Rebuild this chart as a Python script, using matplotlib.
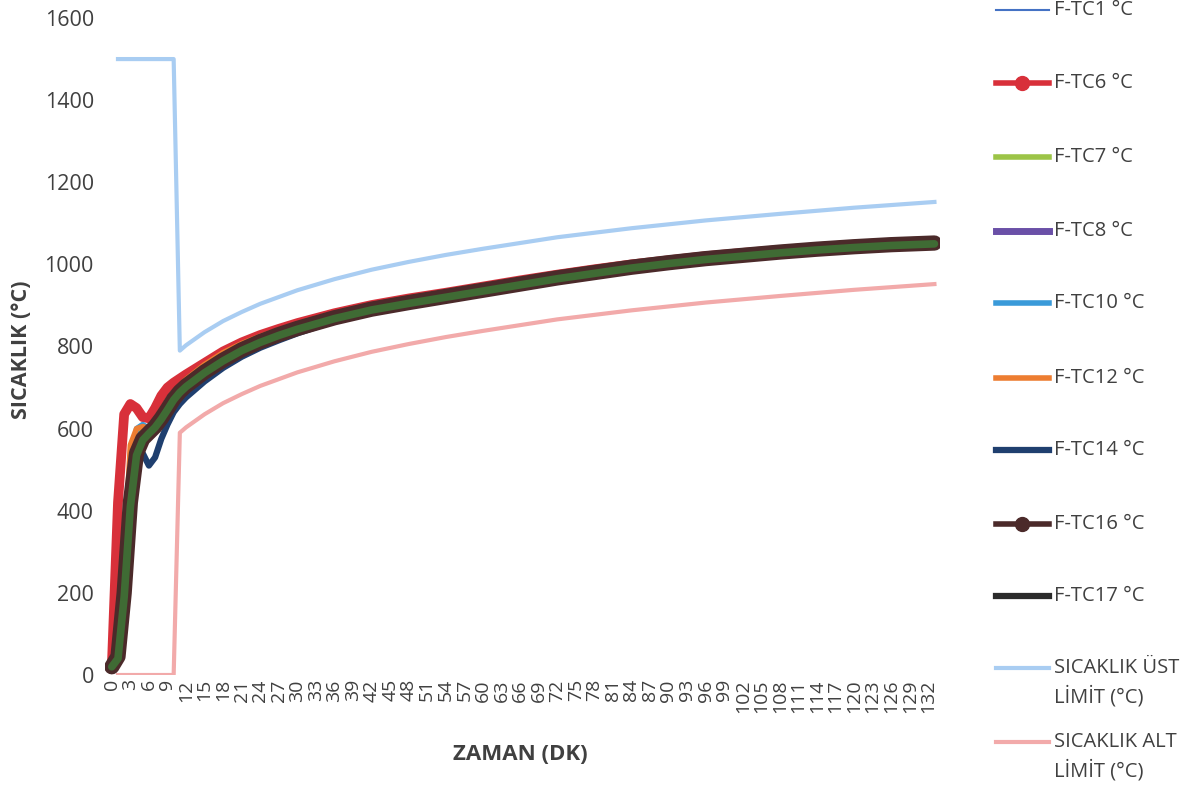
import numpy as np
import matplotlib
matplotlib.use('Agg')
import matplotlib.pyplot as plt
from matplotlib.lines import Line2D

# time in minutes
t = [0, 1, 2, 3, 4, 5, 6, 7, 8, 9, 10, 11, 12, 15, 18, 21, 24, 27, 30, 36, 42, 48,
     54, 60, 66, 72, 78, 84, 90, 96, 102, 108, 114, 120, 126, 133]

tc1 = [20, 50, 230, 450, 560, 585, 595, 608, 626, 648, 670, 688, 702, 737, 766, 791, 811, 828,
       843, 869, 890, 906, 921, 936, 951, 966, 979, 992, 1003, 1013, 1021, 1029, 1036, 1042, 1047, 1051]
tc6 = [20, 420, 635, 660, 650, 628, 625, 650, 680, 700, 712, 722, 732, 760, 788, 810, 828, 843,
       857, 881, 901, 917, 931, 946, 961, 975, 988, 1000, 1010, 1020, 1028, 1035, 1042, 1048, 1053, 1057]
tc7 = [20, 55, 240, 470, 575, 600, 605, 615, 635, 655, 678, 696, 710, 745, 774, 799, 819, 836,
       851, 877, 897, 913, 928, 942, 957, 971, 984, 996, 1007, 1017, 1025, 1033, 1040, 1046, 1051, 1055]
tc8 = [20, 45, 210, 430, 545, 575, 585, 600, 622, 645, 668, 688, 702, 738, 767, 792, 812, 829,
       844, 870, 891, 907, 922, 937, 952, 967, 980, 993, 1004, 1014, 1022, 1030, 1037, 1043, 1048, 1052]
tc10 = [20, 60, 260, 500, 600, 610, 600, 610, 628, 650, 670, 688, 701, 736, 765, 790, 810, 827,
        842, 868, 889, 905, 920, 935, 950, 965, 978, 991, 1002, 1012, 1020, 1028, 1035, 1041, 1046, 1050]
tc12 = [20, 60, 280, 560, 600, 605, 600, 620, 645, 668, 685, 705, 720, 756, 785, 807, 825, 840,
        854, 878, 898, 914, 928, 943, 958, 972, 985, 997, 1008, 1018, 1026, 1033, 1040, 1046, 1051, 1055]
tc14 = [20, 40, 180, 400, 540, 540, 510, 530, 575, 610, 640, 660, 676, 715, 748, 775, 797, 815,
        832, 862, 884, 901, 916, 931, 946, 960, 973, 986, 997, 1007, 1015, 1023, 1030, 1036, 1041, 1045]
tc16 = [20, 45, 200, 420, 540, 575, 590, 605, 625, 648, 672, 690, 704, 738, 767, 792, 812, 829,
        844, 870, 891, 907, 922, 937, 952, 967, 980, 993, 1004, 1014, 1022, 1030, 1037, 1043, 1048, 1052]
tc17 = [20, 40, 190, 410, 535, 572, 588, 603, 623, 646, 670, 688, 702, 736, 765, 790, 810, 827,
        842, 868, 889, 905, 920, 935, 950, 965, 978, 991, 1002, 1012, 1020, 1028, 1035, 1041, 1046, 1050]

# limit curves
t_lim = [1, 10, 11, 12, 15, 18, 21, 24, 30, 36, 42, 48, 54, 60, 72, 84, 96, 108, 120, 133]
ust_limit = [1500, 1500, 790, 803, 835, 862, 884, 904, 937, 964, 987, 1006, 1023, 1038,
             1066, 1088, 1107, 1123, 1138, 1152]
alt_limit = [0, 0, 590, 603, 635, 662, 684, 704, 737, 764, 787, 806, 823, 838,
             866, 888, 907, 923, 938, 952]

x_ticks = list(range(0, 133, 3))
y_ticks = [0, 200, 400, 600, 800, 1000, 1200, 1400, 1600]

FONT = 'Open Sans'
TXT = '#404040'


def main():
    W, H = 1188, 790
    fig = plt.figure(figsize=(W / 100, H / 100), dpi=100)
    ax = fig.add_axes([105 / W, 1 - 675 / H, (940 - 105) / W, (675 - 18) / H])

    ax.plot(t, tc1, color='#4472C4', lw=1.5, zorder=2)
    ax.plot(t, tc6, color='#D8303A', lw=7, solid_capstyle='round', zorder=3)
    ax.plot(t, tc7, color='#9CC447', lw=4, zorder=4)
    ax.plot(t, tc8, color='#6A50A7', lw=4, zorder=5)
    ax.plot(t, tc10, color='#3A9AD9', lw=4, zorder=6)
    ax.plot(t, tc12, color='#ED7D31', lw=4, zorder=7)
    ax.plot(t, tc14, color='#1F3F6F', lw=4.5, zorder=8)
    ax.plot(t, tc16, color='#4B2A2A', lw=11, solid_capstyle='round', zorder=9)
    ax.plot(t, tc17, color='#3F6B34', lw=5.5, solid_capstyle='round', zorder=10)
    ax.plot(t_lim, ust_limit, color='#A9CDF2', lw=3, zorder=11)
    ax.plot(t_lim, alt_limit, color='#F2AAAA', lw=3, zorder=11)

    ax.set_xlim(-1.1, 133.9)
    ax.set_ylim(0, 1600)
    ax.set_xticks(x_ticks)
    ax.set_xticklabels([str(v) for v in x_ticks], rotation=90, fontsize=14,
                       family=FONT, color=TXT)
    ax.set_yticks(y_ticks)
    ax.set_yticklabels([str(v) for v in y_ticks], fontsize=15.5, family=FONT, color=TXT)
    ax.tick_params(length=0, pad=3)
    ax.tick_params(axis='y', pad=8)
    for s in ax.spines.values():
        s.set_visible(False)

    fig.text(22 / W, 1 - 350 / H, 'SICAKLIK (°C)', rotation=90, ha='center', va='center',
             fontsize=15.5, fontweight='bold', family=FONT, color=TXT)
    fig.text(520 / W, 1 - 755 / H, 'ZAMAN (DK)', ha='center', va='center',
             fontsize=16, fontweight='bold', family=FONT, color=TXT)

    # legend drawn by hand to keep the Excel-like spacing
    entries = [
        ('F-TC1 °C', '#4472C4', 1.5, None, 10),
        ('F-TC6 °C', '#D8303A', 4, 'o', 83),
        ('F-TC7 °C', '#9CC447', 4, None, 157),
        ('F-TC8 °C', '#6A50A7', 5, None, 231),
        ('F-TC10 °C', '#3A9AD9', 4, None, 303),
        ('F-TC12 °C', '#ED7D31', 4, None, 378),
        ('F-TC14 °C', '#1F3F6F', 4.5, None, 450),
        ('F-TC16 °C', '#4B2A2A', 4, 'o', 524),
        ('F-TC17 °C', '#2B2B2B', 4.5, None, 596),
        ('SICAKLIK ÜST\nLİMİT (°C)', '#A9CDF2', 3, None, 668),
        ('SICAKLIK ALT\nLİMİT (°C)', '#F2AAAA', 3, None, 742),
    ]
    for label, col, lw, mk, ypx in entries:
        yf = 1 - ypx / H
        if mk:
            ln = Line2D([996 / W, 1022 / W, 1049 / W], [yf, yf, yf], transform=fig.transFigure,
                        color=col, lw=lw, marker=mk, markevery=[1], markersize=10,
                        markeredgecolor=col)
        else:
            ln = Line2D([996 / W, 1049 / W], [yf, yf], transform=fig.transFigure,
                        color=col, lw=lw)
        fig.add_artist(ln)
        ty = ypx + 15 if '\n' in label else ypx
        fig.text(1054 / W, 1 - ty / H, label, ha='left', va='center',
                 fontsize=14.5, family=FONT, color=TXT, linespacing=1.45)

    fig.savefig('out.png', dpi=100)


if __name__ == '__main__':
    main()
